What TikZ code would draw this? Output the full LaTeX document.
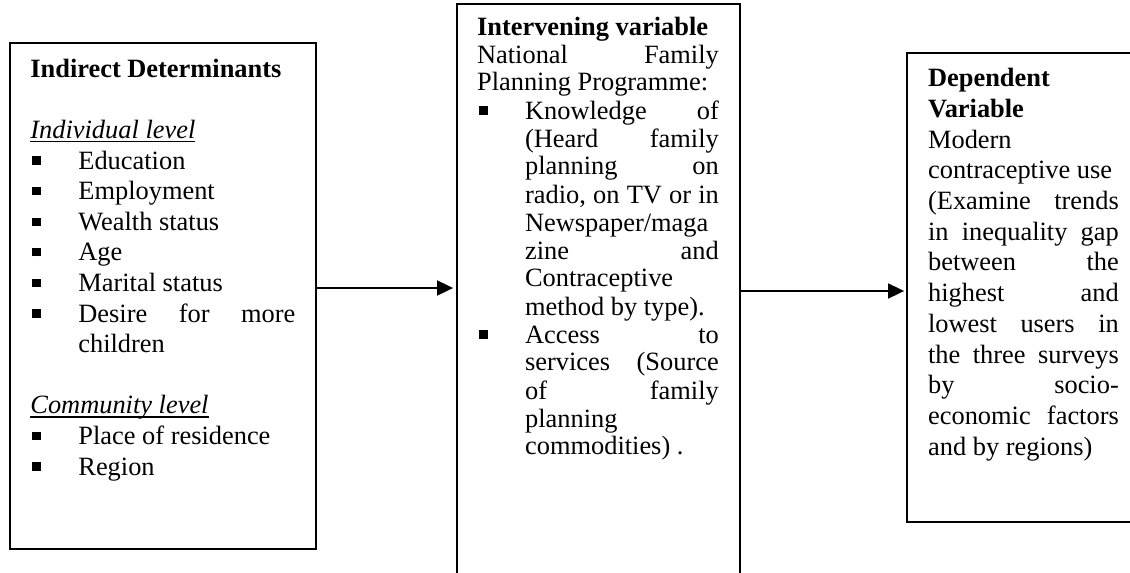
\documentclass[tikz,border=0pt]{standalone}
\usepackage{fontspec}
\setmainfont{Liberation Serif}
\usetikzlibrary{arrows.meta,fit}
\tolerance=10000
\hbadness=10000

\newcommand\sqbul{\makebox[24pt][l]{\hspace*{1pt}\rule[2.2pt]{4.2pt}{4.2pt}}}
\newcommand\itm{\par\hangindent=24pt\hangafter=1\noindent\sqbul}
\newcommand\undl[1]{\leavevmode\setbox0\hbox{#1}\rlap{\rule[-1.9pt]{\wd0}{0.8pt}}\box0}
\newcommand\blank{\par\vspace{\baselineskip}}

\begin{document}
\begin{tikzpicture}[x=0.5pt,y=-0.5pt,
  >={Triangle[length=8pt,width=7.5pt]},
  frame/.style={draw,line width=0.9pt,inner sep=0pt},
  body/.style={inner sep=0pt,anchor=base west,align=justify,font=\fontsize{13.2}{15.3}\selectfont}]
  \useasboundingbox (0,0) rectangle (1130,573);

  % Boxes (middle and right ones run off the page)
  \node[frame,fit={(10,43) (316,549)}] (ind) {};
  \node[frame,fit={(457,4) (740,600)}] (inter) {};
  \node[frame,fit={(907,53) (1140,522)}] (dep) {};

  % Links
  \draw[->,line width=0.9pt,shorten >=1.5pt] (ind.east |- 0,288) -- (inter.west |- 0,288);
  \draw[->,line width=0.9pt,shorten >=1pt] (inter.east |- 0,291) -- (dep.west |- 0,291);

  % Indirect determinants
  \node[body,text width=132.5pt] (indtxt) at (30,77.3) {%
    \textbf{Indirect Determinants}\blank
    \undl{\textit{Individual level}}
    \itm Education
    \itm Employment
    \itm Wealth status
    \itm Age
    \itm Marital status
    \itm Desire for more\linebreak children\blank
    \undl{\textit{Community level}}
    \itm Place of residence
    \itm Region\par};

  % Intervening variable
  \node[body,text width=120.85pt,font=\fontsize{13.2}{14}\selectfont] (intertxt) at (476.7,35) {%
    \textbf{Intervening variable}\par
    National Family\linebreak Planning Programme:
    \itm Knowledge of\linebreak (Heard family\linebreak planning on\linebreak
      radio, on TV or in\linebreak Newspaper/maga\newline zine and\linebreak
      Contraceptive\newline method by type).
    \itm Access to\linebreak services (Source\linebreak of family\linebreak
      planning\newline commodities) .\par};

  % Dependent variable
  \node[body,text width=95.35pt,font=\fontsize{13.2}{15.35}\selectfont] (deptxt) at (927.7,86.7) {%
    \textbf{Dependent}\newline\textbf{Variable}\par
    Modern\newline contraceptive use\newline (Examine trends\linebreak
    in inequality gap\linebreak between the\linebreak highest and\linebreak
    lowest users in\linebreak the three surveys\linebreak by socio-\linebreak
    economic factors\linebreak and by regions)\par};

\end{tikzpicture}
\end{document}
